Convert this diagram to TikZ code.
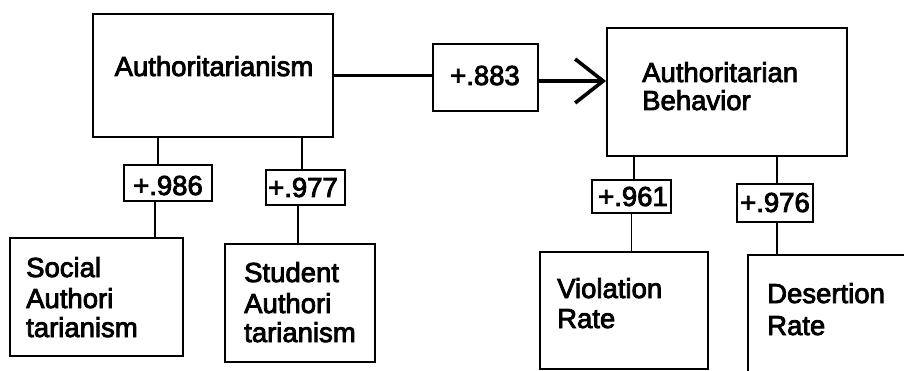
\documentclass[tikz,border=0pt]{standalone}
\usepackage{fontspec}
\setmainfont{Liberation Sans}
\newfontfamily\scanfont{Liberation Sans}[FakeBold=3]
\usetikzlibrary{arrows.meta}
\begin{document}
\begin{tikzpicture}[x=1pt,y=-1pt,
  box/.style={draw, line width=1.9pt, inner sep=0pt},
  txt/.style={inner sep=0pt, anchor=base west, font=\scanfont\fontsize{27.5}{30}\selectfont},
  ctxt/.style={inner sep=0pt, anchor=base, font=\scanfont\fontsize{27.5}{30}\selectfont},
  link/.style={line width=1.9pt},
  mainlink/.style={line width=3.6pt}]
\useasboundingbox[fill=white] (0,0) rectangle (904,371);
\clip (0,0) rectangle (904,371);
% boxes
\node[box, minimum width=240pt, minimum height=123pt] (auth) at (213,75.5) {};
\node[box, minimum width=105pt, minimum height=67pt] (r883) at (485.5,77.5) {};
\node[box, minimum width=240pt, minimum height=128pt] (behav) at (727,92) {};
\node[box, minimum width=88pt, minimum height=36pt] (r986) at (168,183) {};
\node[box, minimum width=79pt, minimum height=35pt] (r977) at (305.5,187.5) {};
\node[box, minimum width=173pt, minimum height=118pt] (social) at (96.5,297) {};
\node[box, minimum width=150pt, minimum height=118pt] (student) at (300,303) {};
\node[box, minimum width=79pt, minimum height=33pt] (r961) at (631.5,196.5) {};
\node[box, minimum width=76pt, minimum height=38pt] (r976) at (775,203) {};
\node[box, minimum width=168pt, minimum height=117pt] (viol) at (624,310.5) {};
\node[box, minimum width=172pt, minimum height=126pt] (desert) at (834,318) {};
% texts
\node[ctxt] (tauth) at (214,76) {Authoritarianism};
\node[ctxt] (t883) at (485,85) {+.883};
\node[txt] (tbeh1) at (642,82) {Authoritarian};
\node[txt] (tbeh2) at (642,110) {Behavior};
\node[ctxt] (t986) at (168,195) {+.986};
\node[ctxt] (t977) at (303,197) {+.977};
\node[ctxt] (t961) at (633,206) {+.961};
\node[ctxt] (t976) at (775,212) {+.976};
\node[txt] (tsoc1) at (26,277) {Social};
\node[txt] (tsoc2) at (26,308) {Authori};
\node[txt] (tsoc3) at (26,337) {tarianism};
\node[txt] (tstu1) at (244,282) {Student};
\node[txt] (tstu2) at (244,313) {Authori};
\node[txt] (tstu3) at (244,342) {tarianism};
\node[txt] (tvio1) at (557,298) {Violation};
\node[txt] (tvio2) at (557,328) {Rate};
\node[txt] (tdes1) at (767,303) {Desertion};
\node[txt] (tdes2) at (767,335) {Rate};
% main path
\draw[mainlink] (auth.east) -- (auth.east -| r883.west);
\draw[mainlink, -{Straight Barb[length=28pt,width=44pt]}] ([yshift=-3.5pt]r883.east) -- ([yshift=-3.5pt]r883.east -| behav.west);
% loadings
\draw[link] ([xshift=-10pt]r986.north) -- ([xshift=-10pt]r986.north |- auth.south);
\draw[link] ([xshift=-13pt]r986.south) -- ([xshift=-13pt]r986.south |- social.north);
\draw[link] ([xshift=-3.5pt]r977.north) -- ([xshift=-3.5pt]r977.north |- auth.south);
\draw[link] ([xshift=-7.5pt]r977.south) -- ([xshift=-7.5pt]r977.south |- student.north);
\draw[link] ([xshift=2.5pt]r961.north) -- ([xshift=2.5pt]r961.north |- behav.south);
\draw[link] (r961.south) -- (r961.south |- viol.north);
\draw[link] ([xshift=2pt]r976.north) -- ([xshift=2pt]r976.north |- behav.south);
\draw[link] ([xshift=2pt]r976.south) -- ([xshift=2pt]r976.south |- desert.north);
\end{tikzpicture}
\end{document}
